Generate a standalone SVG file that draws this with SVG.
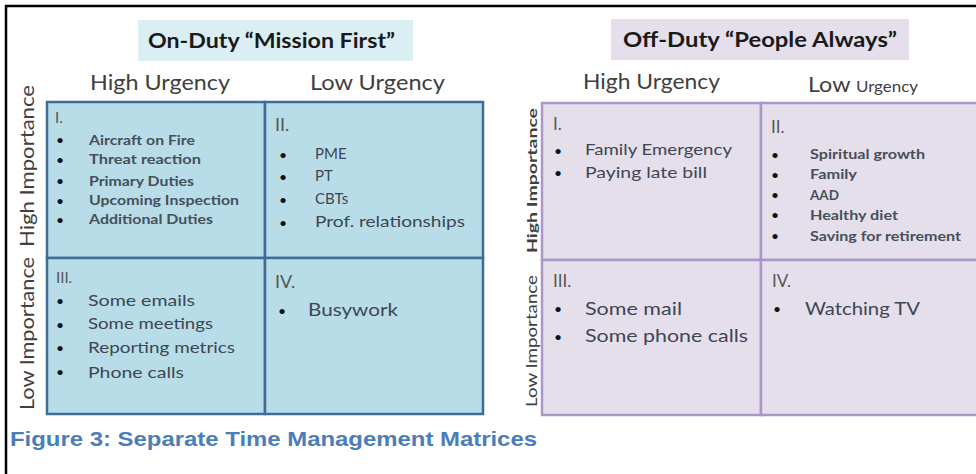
<svg xmlns="http://www.w3.org/2000/svg" width="976" height="474" viewBox="0 0 976 474">
<style>
text{font-family:Lato,"Open Sans","Liberation Sans",sans-serif;fill:#3b3b3b}
.t{font-weight:bold;font-size:20px;fill:#1a1a1a}
.h{font-size:22px;fill:#404040}
.ax{font-size:19px;fill:#404040}
.axs{font-size:14px;fill:#404040;font-weight:bold}
.num{font-size:15px;fill:#555}
.sb{font-size:13px;font-weight:bold;fill:#45505a}
.m{font-size:15px;fill:#3d4652}
.l{font-size:18px;fill:#3d4652}
.b{font-size:14px;fill:#111}
.qb{fill:#b8dde8;stroke:#3f6b98;stroke-width:2.5}
.qp{fill:#e5dfec;stroke:#ab96c9;stroke-width:2.5}
.cap{font-family:"Liberation Sans",Arial,sans-serif;font-weight:bold;font-size:21px;fill:#4a7ebb}
</style>
<rect width="976" height="474" fill="#fff"/>
<path d="M6 474V6H976" fill="none" stroke="#000" stroke-width="2.5"/>

<g id="on-duty-title">
<rect x="138" y="20" width="275" height="41" fill="#daeef3"/>
<text class="t" x="148" y="48" textLength="247" lengthAdjust="spacingAndGlyphs">On-Duty “Mission First”</text>
</g>
<g id="on-duty-axes">
<text class="h" x="90" y="90" textLength="140" lengthAdjust="spacingAndGlyphs">High Urgency</text>
<text class="h" x="310" y="90" textLength="135" lengthAdjust="spacingAndGlyphs">Low Urgency</text>
<text class="ax" transform="translate(34,247) rotate(-90)" textLength="162" lengthAdjust="spacingAndGlyphs">High Importance</text>
<text class="ax" transform="translate(34,410) rotate(-90)" textLength="153" lengthAdjust="spacingAndGlyphs">Low Importance</text>
</g>
<g id="on-q1">
<rect class="qb" x="47" y="102" width="218" height="156"/>
<text class="num" x="55" y="123">I.</text>
<text class="b" x="56" y="145">•</text><text class="b" x="56" y="165">•</text><text class="b" x="56" y="186">•</text><text class="b" x="56" y="206">•</text><text class="b" x="56" y="225">•</text>
<text class="sb" x="89" y="145" textLength="106" lengthAdjust="spacingAndGlyphs">Aircraft on Fire</text>
<text class="sb" x="89" y="164" textLength="112" lengthAdjust="spacingAndGlyphs">Threat reaction</text>
<text class="sb" x="89" y="186" textLength="105" lengthAdjust="spacingAndGlyphs">Primary Duties</text>
<text class="sb" x="89" y="205" textLength="150" lengthAdjust="spacingAndGlyphs">Upcoming Inspection</text>
<text class="sb" x="89" y="224" textLength="124" lengthAdjust="spacingAndGlyphs">Additional Duties</text>
</g>
<g id="on-q2">
<rect class="qb" x="265" y="102" width="218" height="156"/>
<text class="num" x="275" y="131" style="font-size:18px">II.</text>
<text class="b" x="279" y="160">•</text><text class="b" x="279" y="182">•</text><text class="b" x="279" y="205">•</text><text class="b" x="279" y="228">•</text>
<text class="m" x="315" y="159">PME</text>
<text class="m" x="315" y="181">PT</text>
<text class="m" x="315" y="204">CBTs</text>
<text class="m" x="315" y="227" textLength="150" lengthAdjust="spacingAndGlyphs">Prof. relationships</text>
</g>
<g id="on-q3">
<rect class="qb" x="47" y="258" width="218" height="156"/>
<text class="num" x="56" y="283">III.</text>
<text class="b" x="56" y="306">•</text><text class="b" x="56" y="330">•</text><text class="b" x="56" y="353">•</text><text class="b" x="56" y="377">•</text>
<text class="m" x="88" y="306" textLength="107" lengthAdjust="spacingAndGlyphs">Some emails</text>
<text class="m" x="88" y="329" textLength="125" lengthAdjust="spacingAndGlyphs">Some meetings</text>
<text class="m" x="88" y="353" textLength="147" lengthAdjust="spacingAndGlyphs">Reporting metrics</text>
<text class="m" x="88" y="378" textLength="96" lengthAdjust="spacingAndGlyphs">Phone calls</text>
</g>
<g id="on-q4">
<rect class="qb" x="265" y="258" width="218" height="156"/>
<text class="num" x="275" y="288" style="font-size:18px">IV.</text>
<text class="b" x="278" y="316">•</text>
<text class="m" x="308" y="316" style="font-size:17px" textLength="90" lengthAdjust="spacingAndGlyphs">Busywork</text>
</g>

<g id="off-duty-title">
<rect x="611" y="19" width="298" height="41" fill="#e5dfec"/>
<text class="t" x="623" y="47" textLength="274" lengthAdjust="spacingAndGlyphs">Off-Duty “People Always”</text>
</g>
<g id="off-duty-axes">
<text class="h" x="583" y="89" textLength="137" lengthAdjust="spacingAndGlyphs">High Urgency</text>
<text class="h" x="808" y="92" textLength="110" lengthAdjust="spacingAndGlyphs">Low <tspan style="font-size:16px">Urgency</tspan></text>
<text class="axs" transform="translate(537,253) rotate(-90)" textLength="145" lengthAdjust="spacingAndGlyphs">High Importance</text>
<text class="axs" transform="translate(537,407) rotate(-90)" style="font-size:16px;font-weight:normal" textLength="132" lengthAdjust="spacingAndGlyphs">Low Importance</text>
</g>
<g id="off-q1">
<rect class="qp" x="542" y="103" width="219" height="157"/>
<text class="num" x="553" y="130" style="font-size:17px">I.</text>
<text class="b" x="554" y="156">•</text><text class="b" x="554" y="178">•</text>
<text class="m" x="585" y="155" style="font-size:16px" textLength="147" lengthAdjust="spacingAndGlyphs">Family Emergency</text>
<text class="m" x="585" y="178" style="font-size:16px" textLength="122" lengthAdjust="spacingAndGlyphs">Paying late bill</text>
</g>
<g id="off-q2">
<rect class="qp" x="761" y="103" width="230" height="157"/>
<text class="num" x="771" y="133" style="font-size:17px">II.</text>
<text class="b" x="771" y="160">•</text><text class="b" x="771" y="180">•</text><text class="b" x="771" y="200">•</text><text class="b" x="771" y="220">•</text><text class="b" x="771" y="241">•</text>
<text class="sb" x="810" y="159" textLength="115" lengthAdjust="spacingAndGlyphs">Spiritual growth</text>
<text class="sb" x="810" y="179" textLength="47" lengthAdjust="spacingAndGlyphs">Family</text>
<text class="sb" x="810" y="200" textLength="29" lengthAdjust="spacingAndGlyphs">AAD</text>
<text class="sb" x="810" y="220" textLength="88" lengthAdjust="spacingAndGlyphs">Healthy diet</text>
<text class="sb" x="810" y="241" textLength="151" lengthAdjust="spacingAndGlyphs">Saving for retirement</text>
</g>
<g id="off-q3">
<rect class="qp" x="542" y="260" width="219" height="155"/>
<text class="num" x="553" y="287" style="font-size:17px">III.</text>
<text class="b" x="554" y="314">•</text><text class="b" x="554" y="342">•</text>
<text class="l" x="585" y="315" textLength="97" lengthAdjust="spacingAndGlyphs">Some mail</text>
<text class="l" x="585" y="342" textLength="163" lengthAdjust="spacingAndGlyphs">Some phone calls</text>
</g>
<g id="off-q4">
<rect class="qp" x="761" y="260" width="230" height="155"/>
<text class="num" x="772" y="287" style="font-size:17px">IV.</text>
<text class="b" x="773" y="314">•</text>
<text class="l" x="805" y="315" textLength="115" lengthAdjust="spacingAndGlyphs">Watching TV</text>
</g>

<text class="cap" x="10" y="446" textLength="527" lengthAdjust="spacingAndGlyphs">Figure 3: Separate Time Management Matrices</text>
</svg>
